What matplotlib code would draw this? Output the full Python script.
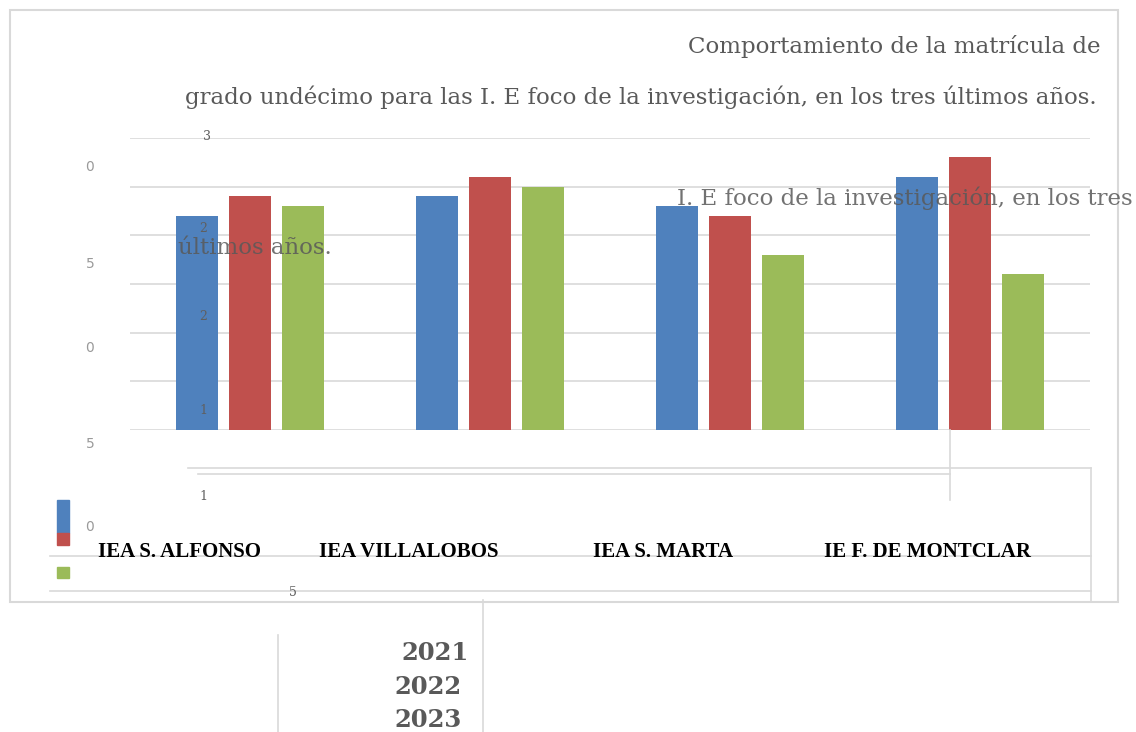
import matplotlib
matplotlib.use("Agg")
import numpy as np
import matplotlib.pyplot as plt
from matplotlib.lines import Line2D
from matplotlib.patches import Rectangle

# Data (matrícula de grado undécimo)
schools = ["IEA S. ALFONSO", "IEA VILLALOBOS", "IEA S. MARTA", "IE F. DE MONTCLAR"]
years = ["2021", "2022", "2023"]
v2021 = [22, 24, 23, 26]
v2022 = [24, 26, 22, 28]
v2023 = [23, 25, 18, 16]
colors = ["#4f81bd", "#c0504d", "#9bbb59"]

W, H = 1136, 732
fig = plt.figure(figsize=(W / 100, H / 100), dpi=100)
fig.patch.set_facecolor("white")


def fx(x):
    return x / W


def fy(y):
    return 1 - y / H


def hline(y, x0, x1, color="#d9d9d9", lw=1.2):
    fig.add_artist(Line2D([fx(x0), fx(x1)], [fy(y), fy(y)], color=color, lw=lw))


def vline(x, y0, y1, color="#d9d9d9", lw=1.2):
    fig.add_artist(Line2D([fx(x), fx(x)], [fy(y0), fy(y1)], color=color, lw=lw))


# outer chart frame
fig.add_artist(Rectangle((fx(10), fy(602)), fx(1108), 592 / H, transform=fig.transFigure,
                         fill=False, edgecolor="#d9d9d9", lw=1.5))

# plot area
ax = fig.add_axes([fx(130), fy(430), fx(960), 292 / H])
x = np.arange(len(schools))
w = 0.175
off = 0.22
for i, vals in enumerate([v2021, v2022, v2023]):
    ax.bar(x + (i - 1) * off, vals, width=w, color=colors[i], zorder=3)
ax.set_xlim(-0.5, 3.5)
ax.set_ylim(0, 30)
ax.set_yticks(np.arange(0, 31, 5))
ax.grid(axis="y", color="#d9d9d9", lw=1.2, zorder=0)
ax.set_xticks([])
ax.tick_params(left=False, labelleft=False)
for s in ax.spines.values():
    s.set_visible(False)
ax.patch.set_alpha(0)

# stray lines of the broken layout
hline(468, 188, 1091)
hline(474, 198, 950)
vline(950, 430, 500)
vline(1091, 468, 602)
hline(556, 50, 1091)
hline(591, 50, 1091)
vline(483, 600, 732)
vline(278, 635, 732)

# titles
tcol = "#595959"
tsize = 16.5
fig.text(fx(1100), fy(47), "Comportamiento de la matrícula de", ha="right", va="center",
         fontsize=tsize, family="DejaVu Serif", color=tcol)
fig.text(fx(1097), fy(97), "grado undécimo para las I. E foco de la investigación, en los tres últimos años.",
         ha="right", va="center", fontsize=tsize, family="DejaVu Serif", color=tcol)
fig.text(fx(677), fy(198), "I. E foco de la investigación, en los tres", ha="left", va="center",
         fontsize=tsize, family="DejaVu Serif", color=tcol, alpha=0.85, zorder=5)
fig.text(fx(178), fy(248), "últimos años.", ha="left", va="center",
         fontsize=tsize, family="DejaVu Serif", color=tcol, alpha=0.85, zorder=5)

# broken axis labels
serif_ticks = [("3", 207, 137), ("2", 203, 228), ("2", 203, 316), ("1", 203, 411),
               ("1", 203, 497), ("5", 293, 592)]
sans_ticks = [("0", 90, 167), ("5", 90, 264), ("0", 90, 348), ("5", 90, 444), ("0", 90, 527)]
for t, px, py in serif_ticks:
    fig.text(fx(px), fy(py), t, ha="center", va="center", fontsize=9,
             family="DejaVu Serif", color="#5f5f5f", zorder=5)
for t, px, py in sans_ticks:
    fig.text(fx(px), fy(py), t, ha="center", va="center", fontsize=10,
             family="DejaVu Sans", color="#9a9a9a")

# legend markers
fig.add_artist(Rectangle((fx(57), fy(533)), fx(12), 33 / H, transform=fig.transFigure, color=colors[0]))
fig.add_artist(Rectangle((fx(57), fy(545)), fx(12), 12 / H, transform=fig.transFigure, color=colors[1]))
fig.add_artist(Rectangle((fx(57), fy(578)), fx(12), 11 / H, transform=fig.transFigure, color=colors[2]))

# category names
cat_x = [180, 409, 663, 927]
for name, cx in zip(schools, cat_x):
    fig.text(fx(cx), fy(552), name, ha="center", va="center", fontsize=15,
             family="Liberation Serif", weight="bold", color="black", zorder=6)

# legend years
year_pos = [(469, 653), (462, 687), (462, 720)]
for yr, (px, py) in zip(years, year_pos):
    fig.text(fx(px), fy(py), yr, ha="right", va="center", fontsize=17.5,
             family="DejaVu Serif", weight="bold", color=tcol)

fig.savefig("out.png", dpi=100)
